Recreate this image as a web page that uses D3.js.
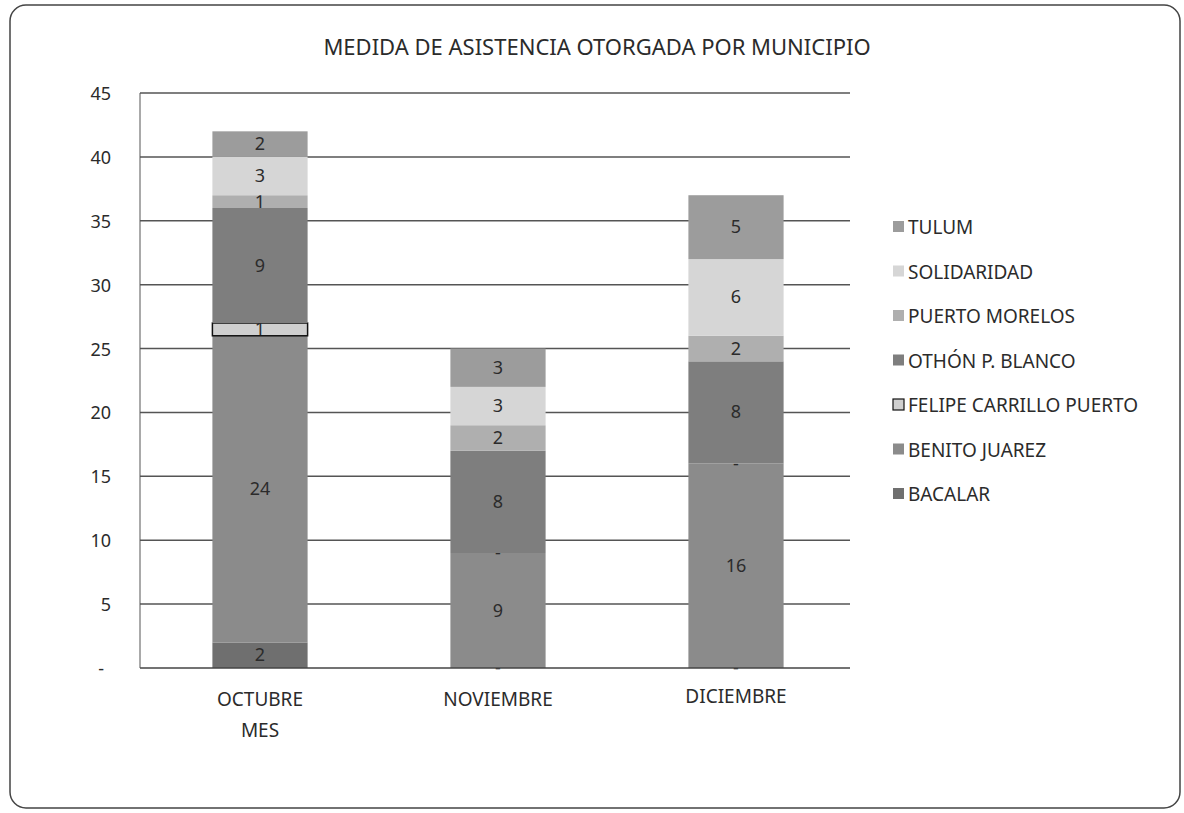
<!DOCTYPE html>
<html>
<head>
<meta charset="utf-8">
<script src="https://cdn.jsdelivr.net/npm/d3@7"></script>
<style>
  body { margin: 0; background: #fff; }
  text { font-family: "Noto Sans", "Open Sans", sans-serif; fill: #2b2b2b; }
</style>
</head>
<body>
<div id="chart"></div>
<script>
var months = ["OCTUBRE", "NOVIEMBRE", "DICIEMBRE"];
var municipios = ["BACALAR", "BENITO JUAREZ", "FELIPE CARRILLO PUERTO", "OTHÓN P. BLANCO", "PUERTO MORELOS", "SOLIDARIDAD", "TULUM"];
var bacalar = [2, 0, 0];
var benitoJuarez = [24, 9, 16];
var felipeCarrillo = [1, 0, 0];
var othonBlanco = [9, 8, 8];
var puertoMorelos = [1, 2, 2];
var solidaridad = [3, 3, 6];
var tulum = [2, 3, 5];
var yTicks = [0, 5, 10, 15, 20, 25, 30, 35, 40, 45];

var seriesValues = [bacalar, benitoJuarez, felipeCarrillo, othonBlanco, puertoMorelos, solidaridad, tulum];
var colors = ["#6f6f6f", "#8b8b8b", "#cfcfcf", "#7e7e7e", "#afafaf", "#d6d6d6", "#9c9c9c"];

var width = 1184, height = 813;
var svg = d3.select("#chart").append("svg")
    .attr("width", width)
    .attr("height", height);

// outer frame
svg.append("rect")
    .attr("x", 10).attr("y", 5)
    .attr("width", 1170).attr("height", 803)
    .attr("rx", 16)
    .attr("fill", "#fff")
    .attr("stroke", "#444")
    .attr("stroke-width", 1.5);

svg.append("text")
    .attr("x", 597).attr("y", 55)
    .attr("text-anchor", "middle")
    .attr("font-size", 22)
    .text("MEDIDA DE ASISTENCIA OTORGADA POR MUNICIPIO");

var table = months.map(function(m, i) {
    var row = { month: m };
    municipios.forEach(function(k, j) { row[k] = seriesValues[j][i]; });
    return row;
});

var stack = d3.stack().keys(municipios);
var layers = stack(table);

var x = d3.scaleBand().domain(months).range([141, 855]).paddingInner(0.6).paddingOuter(0.3);
var y = d3.scaleLinear().domain([0, 45]).range([668, 93]);

// gridlines
svg.append("g").selectAll("line")
    .data(yTicks.slice(1))
    .enter().append("line")
    .attr("x1", 140).attr("x2", 850)
    .attr("y1", function(d) { return y(d); })
    .attr("y2", function(d) { return y(d); })
    .attr("stroke", "#555")
    .attr("stroke-width", 1.5);

// y labels
svg.append("g").selectAll("text")
    .data(yTicks)
    .enter().append("text")
    .attr("x", function(d) { return d === 0 ? 104 : 111; })
    .attr("y", function(d) { return y(d) + 7; })
    .attr("text-anchor", "end")
    .attr("font-size", 18)
    .text(function(d) { return d === 0 ? "-" : d; });

// bars
var groups = svg.append("g").selectAll("g")
    .data(layers)
    .enter().append("g")
    .attr("fill", function(d, i) { return colors[i]; });

groups.selectAll("rect")
    .data(function(d) { return d.map(function(p, i) { p.key = d.key; p.month = months[i]; return p; }); })
    .enter().append("rect")
    .attr("x", function(d) { return x(d.month); })
    .attr("width", x.bandwidth())
    .attr("y", function(d) { return y(d[1]); })
    .attr("height", function(d) { return y(d[0]) - y(d[1]); })
    .attr("stroke", function(d) { return d.key === "FELIPE CARRILLO PUERTO" && d[1] > d[0] ? "#111" : "none"; })
    .attr("stroke-width", 1.5);

// value labels
groups.selectAll("text")
    .data(function(d) { return d; })
    .enter().append("text")
    .attr("x", function(d) { return x(d.month) + x.bandwidth() / 2; })
    .attr("y", function(d) { return (y(d[0]) + y(d[1])) / 2 + 6; })
    .attr("text-anchor", "middle")
    .attr("font-size", 18)
    .attr("fill", "#333")
    .text(function(d) { return d[1] - d[0] === 0 ? "-" : d[1] - d[0]; });

// axes lines
svg.append("line")
    .attr("x1", 140).attr("x2", 850)
    .attr("y1", 668).attr("y2", 668)
    .attr("stroke", "#444").attr("stroke-width", 1.5);
svg.append("line")
    .attr("x1", 140).attr("x2", 140)
    .attr("y1", 93).attr("y2", 668)
    .attr("stroke", "#555").attr("stroke-width", 1);

// x labels
svg.append("g").selectAll("text")
    .data(months)
    .enter().append("text")
    .attr("x", function(d) { return x(d) + x.bandwidth() / 2; })
    .attr("y", function(d, i) { return i === 2 ? 703 : 706; })
    .attr("text-anchor", "middle")
    .attr("font-size", 19)
    .text(function(d) { return d; });

svg.append("text")
    .attr("x", x("OCTUBRE") + x.bandwidth() / 2)
    .attr("y", 737)
    .attr("text-anchor", "middle")
    .attr("font-size", 19)
    .text("MES");

// legend (reverse order)
var legend = svg.append("g").selectAll("g")
    .data(municipios.slice().reverse())
    .enter().append("g")
    .attr("transform", function(d, i) { return "translate(893," + (227 + i * 44.5) + ")"; });

legend.append("rect")
    .attr("x", 0).attr("y", -6)
    .attr("width", 11).attr("height", 11)
    .attr("fill", function(d) { return colors[municipios.indexOf(d)]; })
    .attr("stroke", function(d) { return d === "FELIPE CARRILLO PUERTO" ? "#111" : "none"; })
    .attr("stroke-width", 1.2);

legend.append("text")
    .attr("x", 15).attr("y", 7)
    .attr("font-size", 19)
    .text(function(d) { return d; });
</script>
</body>
</html>
